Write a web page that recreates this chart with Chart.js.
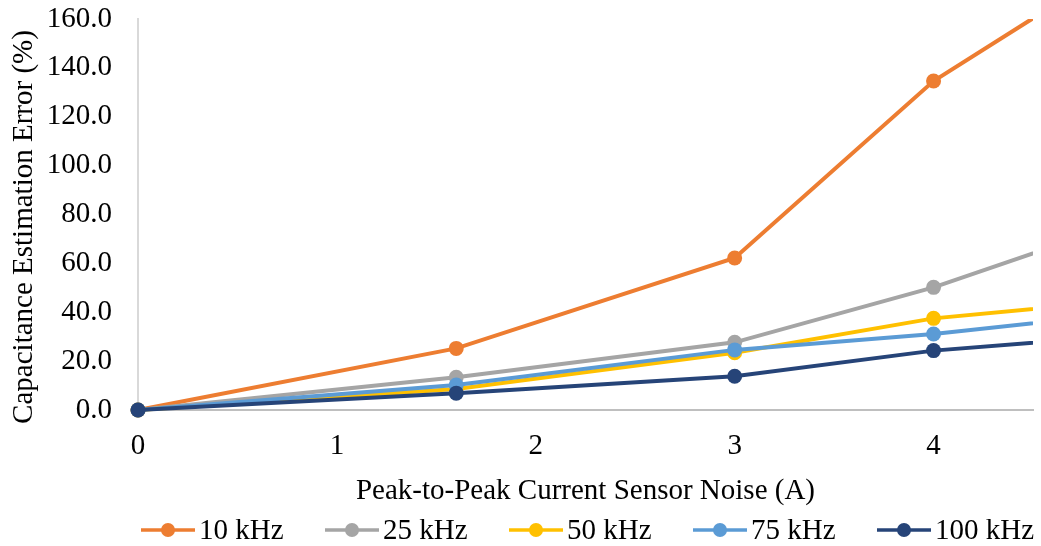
<!DOCTYPE html>
<html lang="en">
<head>
    <meta charset="UTF-8">
    <title>Capacitance Estimation Error</title>
    <script src="https://cdn.jsdelivr.net/npm/chart.js"></script>
    <style>
        html, body {
            margin: 0;
            padding: 0;
            background: #fff;
        }
        .chart-container {
            width: 1041px;
            height: 546px;
        }
    </style>
</head>
<body>
    <div class="chart-container">
        <canvas id="errorChart"></canvas>
    </div>

    <script>
        // Peak-to-peak noise levels (A); last one sits past the axis end
        var noiseLevels = [0, 1.6, 3, 4, 5];

        // Estimation error (%) per switching frequency
        var err10k = [0, 25.2, 62.2, 134.6, 186];
        var err25k = [0, 13.4, 27.7, 50.2, 78];
        var err50k = [0, 8.6, 23.4, 37.5, 45.1];
        var err75k = [0, 10.2, 24.6, 31.1, 39.9];
        var err100k = [0, 6.9, 13.8, 24.3, 30.7];

        var seriesLabels = ['10 kHz', '25 kHz', '50 kHz', '75 kHz', '100 kHz'];
        var seriesColors = ['#ED7D31', '#A5A5A5', '#FFC000', '#5B9BD5', '#264478'];
        var seriesValues = [err10k, err25k, err50k, err75k, err100k];

        var xTicks = [0, 1, 2, 3, 4];
        var yTicks = [0, 20, 40, 60, 80, 100, 120, 140, 160];

        var yTitle = 'Capacitance Estimation Error (%)';
        var xTitle = 'Peak-to-Peak Current Sensor Noise (A)';

        var fontFamily = "'Liberation Serif', 'Times New Roman', serif";
        var fontSize = 29;

        function toPoints(values) {
            return values.map(function(v, i) {
                return { x: noiseLevels[i], y: v };
            });
        }

        var datasets = seriesValues.map(function(values, i) {
            return {
                label: seriesLabels[i],
                data: toPoints(values),
                borderColor: seriesColors[i],
                backgroundColor: seriesColors[i],
                borderWidth: 4,
                pointRadius: 7.5,
                pointHoverRadius: 7.5,
                pointBorderWidth: 0,
                tension: 0,
                // later series drawn on top
                order: seriesValues.length - i,
                clip: { left: 12, bottom: 12, top: 0, right: 0 }
            };
        });

        // Rotated y title (sits a little below the plot's middle) and the legend row
        var chartText = {
            id: 'chartText',
            afterDraw: function(chart) {
                var ctx = chart.ctx;
                ctx.save();
                ctx.font = fontSize + 'px ' + fontFamily;
                ctx.fillStyle = '#000';

                ctx.save();
                ctx.translate(24, 227);
                ctx.rotate(-Math.PI / 2);
                ctx.textAlign = 'center';
                ctx.textBaseline = 'middle';
                ctx.fillText(yTitle, 0, 0);
                ctx.restore();

                var y = 530;
                ctx.textBaseline = 'middle';
                ctx.textAlign = 'left';
                seriesLabels.forEach(function(label, i) {
                    var x0 = 141 + i * 184;
                    ctx.strokeStyle = seriesColors[i];
                    ctx.lineWidth = 3.5;
                    ctx.beginPath();
                    ctx.moveTo(x0, y);
                    ctx.lineTo(x0 + 54, y);
                    ctx.stroke();
                    ctx.fillStyle = seriesColors[i];
                    ctx.beginPath();
                    ctx.arc(x0 + 27, y, 7, 0, Math.PI * 2);
                    ctx.fill();
                    ctx.fillStyle = '#000';
                    ctx.fillText(label, x0 + 58, y + 1);
                });
                ctx.restore();
            }
        };

        var ctx = document.getElementById('errorChart').getContext('2d');
        var errorChart = new Chart(ctx, {
            type: 'line',
            data: { datasets: datasets },
            plugins: [chartText],
            options: {
                responsive: true,
                maintainAspectRatio: false,
                animation: false,
                layout: {
                    padding: { top: 19, right: 8, bottom: 0, left: 0 }
                },
                plugins: {
                    legend: { display: false },
                    tooltip: { enabled: false }
                },
                scales: {
                    x: {
                        type: 'linear',
                        min: 0,
                        max: 4.5,
                        afterFit: function(scale) { scale.height = 136; },
                        afterBuildTicks: function(scale) {
                            scale.ticks = xTicks.map(function(v) { return { value: v }; });
                        },
                        border: { display: true, color: '#BFBFBF', width: 2 },
                        grid: { display: false, drawTicks: false },
                        ticks: {
                            padding: 19,
                            color: '#000',
                            font: { family: fontFamily, size: fontSize },
                            callback: function(v) { return v; }
                        },
                        title: {
                            display: true,
                            text: xTitle,
                            color: '#000',
                            font: { family: fontFamily, size: fontSize },
                            padding: { top: 0, bottom: 37 }
                        }
                    },
                    y: {
                        min: 0,
                        max: 160,
                        afterFit: function(scale) {
                            scale.width = 138;
                            // tick padding would otherwise push the plot top down
                            scale.paddingTop = 0;
                        },
                        afterBuildTicks: function(scale) {
                            scale.ticks = yTicks.map(function(v) { return { value: v }; });
                        },
                        border: { display: true, color: '#D9D9D9', width: 2 },
                        grid: { display: false, drawTicks: false },
                        ticks: {
                            padding: 26,
                            color: '#000',
                            font: { family: fontFamily, size: fontSize },
                            callback: function(v) { return v.toFixed(1); }
                        },
                        title: { display: false }
                    }
                }
            }
        });
    </script>
</body>
</html>
